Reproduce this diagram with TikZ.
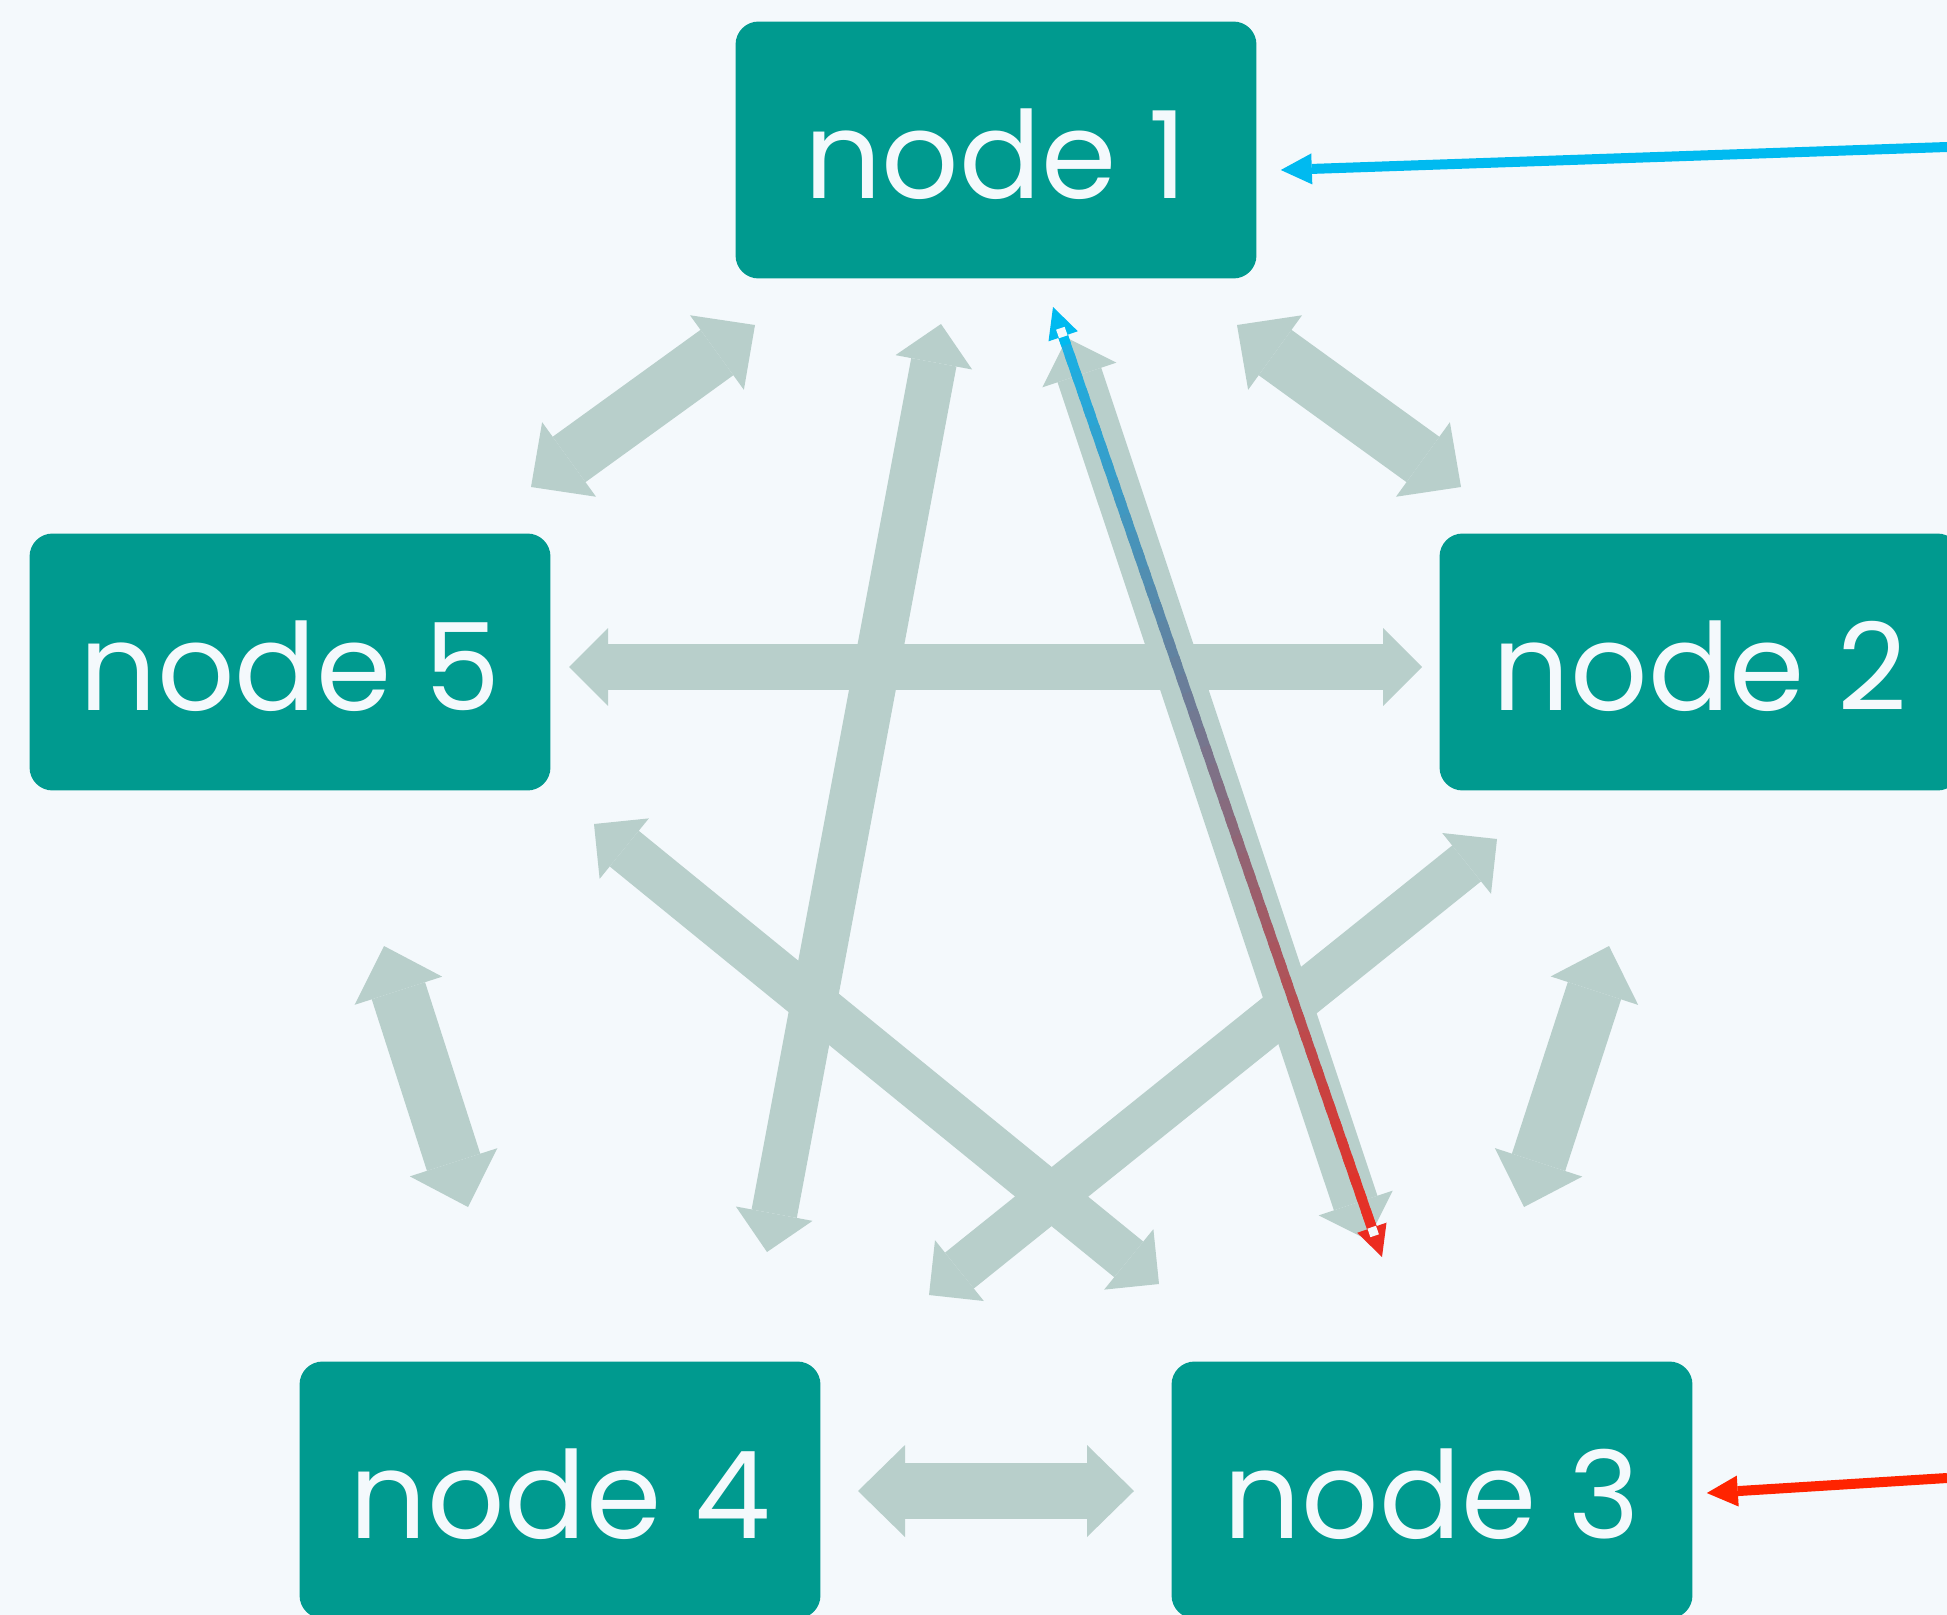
\documentclass[tikz,border=0pt]{standalone}
\usepackage{fontspec}
\setmainfont{Poppins}
\usetikzlibrary{arrows.meta, calc}

\definecolor{bgcol}{HTML}{F4F9FC}
\definecolor{tealbox}{HTML}{009A8F}
\definecolor{linkgrey}{HTML}{B8CFCB}
\definecolor{inblue}{HTML}{00BAF0}
\definecolor{inred}{HTML}{FF2400}
\definecolor{gradblue}{HTML}{1AB0E4}
\definecolor{gradred}{HTML}{EC2C20}

\begin{document}
\begin{tikzpicture}[x=0.02cm, y=-0.02cm, font=\fontsize{69}{73}\selectfont]
	\tikzset{
		box/.style={fill=tealbox, text=bgcol, rounded corners=0.46cm, minimum width=10.42cm, minimum height=5.14cm, inner sep=0pt, text height=1.95cm, text depth=0pt},
		chord/.style={linkgrey, line width=0.92cm, {Triangle[length=0.78cm, width=1.56cm, line width=0pt]}-{Triangle[length=0.78cm, width=1.56cm, line width=0pt]}},
		rim/.style={linkgrey, line width=1.12cm, {Triangle[length=0.94cm, width=1.84cm, line width=0pt]}-{Triangle[length=0.94cm, width=1.84cm, line width=0pt]}},
		feed/.style={line width=0.2cm, -{Triangle[length=0.62cm, width=0.62cm, line width=0pt]}},
	}

	\fill[bgcol] (0,0) rectangle (1947,1615);
	\useasboundingbox (0,0) rectangle (1947,1615);

	\node[box] (N1) at (996,150) {node 1};
	\node[box] (N2) at (1700,662) {node 2};
	\node[box] (N3) at (1432,1490) {node 3};
	\node[box] (N4) at (560,1490) {node 4};
	\node[box] (N5) at (290,662) {node 5};

	\coordinate (E15) at (755,325);
	\coordinate (E51) at (531,487);
	\coordinate (E12) at (1237,325);
	\coordinate (E21) at (1461,487);
	\coordinate (E52) at (569,667);
	\coordinate (E25) at (1422,667);
	\coordinate (E14) at (941,324);
	\coordinate (E41) at (767,1252);
	\coordinate (E13) at (1067,338);
	\coordinate (E31) at (1368,1240);
	\coordinate (E53) at (594,824);
	\coordinate (E35) at (1159,1284);
	\coordinate (E24) at (1497,839);
	\coordinate (E42) at (929,1295);
	\coordinate (E54) at (384,946);
	\coordinate (E45) at (468,1207);
	\coordinate (E23) at (1609,946);
	\coordinate (E32) at (1524,1207);
	\coordinate (E43) at (858,1491);
	\coordinate (E34) at (1134,1491);

	\draw[rim] (E15) -- (E51);
	\draw[rim] (E12) -- (E21);
	\draw[rim] (E54) -- (E45);
	\draw[rim] (E23) -- (E32);
	\draw[rim] (E43) -- (E34);
	\draw[chord] (E52) -- (E25);
	\draw[chord] (E14) -- (E41);
	\draw[chord] (E13) -- (E31);
	\draw[chord] (E53) -- (E35);
	\draw[chord] (E24) -- (E42);

	\coordinate (GT) at (1053,307);
	\coordinate (GB) at (1382,1257);
	\coordinate (GTb) at ($(GT)!0.62cm!(GB)$);
	\coordinate (GBb) at ($(GB)!0.62cm!(GT)$);
	\foreach \i in {0,...,49}{
		\pgfmathsetmacro{\s}{\i/50}
		\pgfmathsetmacro{\t}{min((\i+1.5)/50,1)}
		\pgfmathtruncatemacro{\p}{100-2*\i}
		\draw[gradblue!\p!gradred, line width=0.2cm] ($(GTb)!\s!(GBb)$) -- ($(GTb)!\t!(GBb)$);
	}
	\draw[feed, inblue] ($(GT)!0.8cm!(GB)$) -- (GT);
	\draw[feed, gradred] ($(GB)!0.8cm!(GT)$) -- (GB);
	\node[fill=bgcol, minimum size=0.18cm, inner sep=0pt, rotate=19] (GTsq) at ($(GT)!0.54cm!(GB)$) {};
	\node[fill=bgcol, minimum size=0.18cm, inner sep=0pt, rotate=19] (GBsq) at ($(GB)!0.54cm!(GT)$) {};

	\coordinate (BlueIn) at (1947,147);
	\coordinate (BlueTip) at ($(N1.east)+(24,20)$);
	\coordinate (RedIn) at (1947,1478);
	\coordinate (RedTip) at ($(N3.east)+(14,3)$);
	\draw[feed, inblue] (BlueIn) -- (BlueTip);
	\draw[feed, inred] (RedIn) -- (RedTip);
\end{tikzpicture}
\end{document}
